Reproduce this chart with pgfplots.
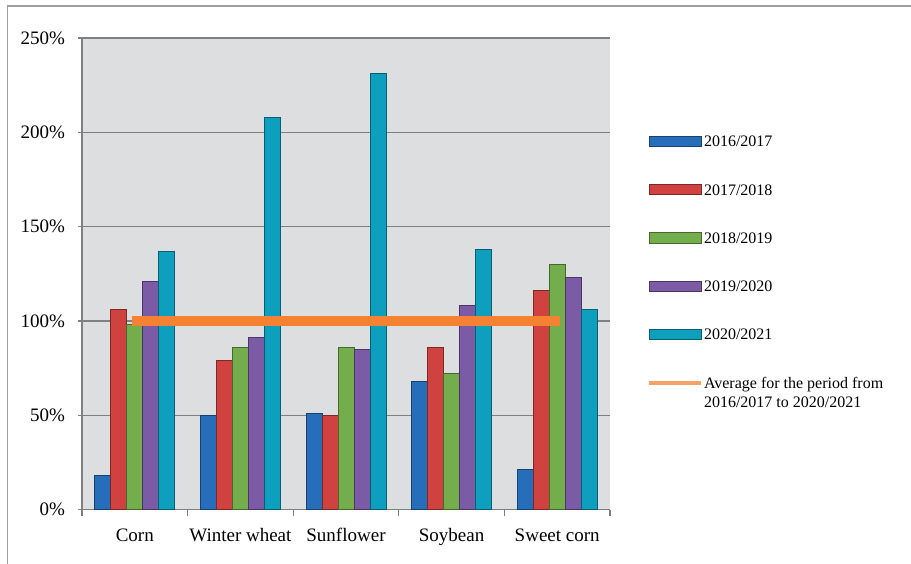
\documentclass[border=0pt]{standalone}
\usepackage{pgfplots}
\pgfplotsset{compat=1.18}
\usepackage{fontspec}
\setmainfont{Liberation Serif}

\definecolor{bgcol}{RGB}{221,222,224}
\definecolor{gridcol}{RGB}{128,128,128}
\definecolor{c1}{RGB}{38,110,186}
\definecolor{c2}{RGB}{208,66,63}
\definecolor{c3}{RGB}{116,174,76}
\definecolor{c4}{RGB}{123,90,166}
\definecolor{c5}{RGB}{14,158,190}
\definecolor{c6}{RGB}{244,130,50}

\begin{document}
\begin{tikzpicture}
\useasboundingbox (0,0) rectangle (455.5pt,281.5pt);
\draw[gray!75, line width=0.7pt] (3.75pt,-1pt) -- (3.75pt,278.5pt) -- (457pt,278.5pt);
\begin{axis}[
  at={(41pt,26.75pt)}, anchor=south west,
  scale only axis, width=264pt, height=235.75pt,
  ybar=0pt, bar width=8pt,
  xmin=-0.5, xmax=4.5, ymin=0, ymax=250,
  xtick={0,...,4},
  xticklabels={Corn,Winter wheat,Sunflower,Soybean,Sweet corn},
  minor xtick={-0.5,0.5,1.5,2.5,3.5,4.5},
  major x tick style={draw=none},
  ytick={0,50,...,250},
  yticklabel={\pgfmathprintnumber{\tick}\%},
  /pgf/number format/assume math mode=true,
  tick align=outside,
  major tick length=2pt, minor tick length=3pt,
  tick style={gridcol, line width=0.6pt},
  ymajorgrids, grid style={gridcol, line width=0.7pt},
  axis background/.style={fill=bgcol},
  axis x line*=bottom, axis y line*=left,
  axis line style={gridcol, line width=0.7pt},
  tick label style={font=\fontsize{9.5}{11}\selectfont},
  xticklabel style={yshift=-4pt},
  yticklabel style={xshift=-3pt},
  legend image code/.code={\draw[#1] (0pt,0.2pt) rectangle (26pt,5.4pt);},
  legend cell align=left,
  legend style={at={(1.058,0.805)}, anchor=north west, draw=none, fill=none,
    font=\fontsize{8}{9.5}\selectfont, row sep=15.3pt, column sep=0pt,
    cells={anchor=base west}, nodes={inner xsep=0.5pt, inner ysep=1pt}},
]
\addplot[fill=c1, draw=c1!60!black, line width=0.4pt] coordinates {(0,18) (1,50) (2,51) (3,68) (4,21)};
\addlegendentry{2016/2017}
\addplot[fill=c2, draw=c2!60!black, line width=0.4pt] coordinates {(0,106) (1,79) (2,50) (3,86) (4,116)};
\addlegendentry{2017/2018}
\addplot[fill=c3, draw=c3!60!black, line width=0.4pt] coordinates {(0,98) (1,86) (2,86) (3,72) (4,130)};
\addlegendentry{2018/2019}
\addplot[fill=c4, draw=c4!60!black, line width=0.4pt] coordinates {(0,121) (1,91) (2,85) (3,108) (4,123)};
\addlegendentry{2019/2020}
\addplot[fill=c5, draw=c5!60!black, line width=0.4pt] coordinates {(0,137) (1,208) (2,231) (3,138) (4,106)};
\addlegendentry{2020/2021}
\addplot[sharp plot, draw=c6, line width=5pt,
  legend image code/.code={\draw[c6!75, line width=2pt] (0pt,2.8pt) -- (26pt,2.8pt);}]
  coordinates {(-0.03,100) (4.03,100)};
\addlegendentry{\parbox[t]{110pt}{Average for the period from\\2016/2017 to 2020/2021}}
\end{axis}
\end{tikzpicture}
\end{document}
